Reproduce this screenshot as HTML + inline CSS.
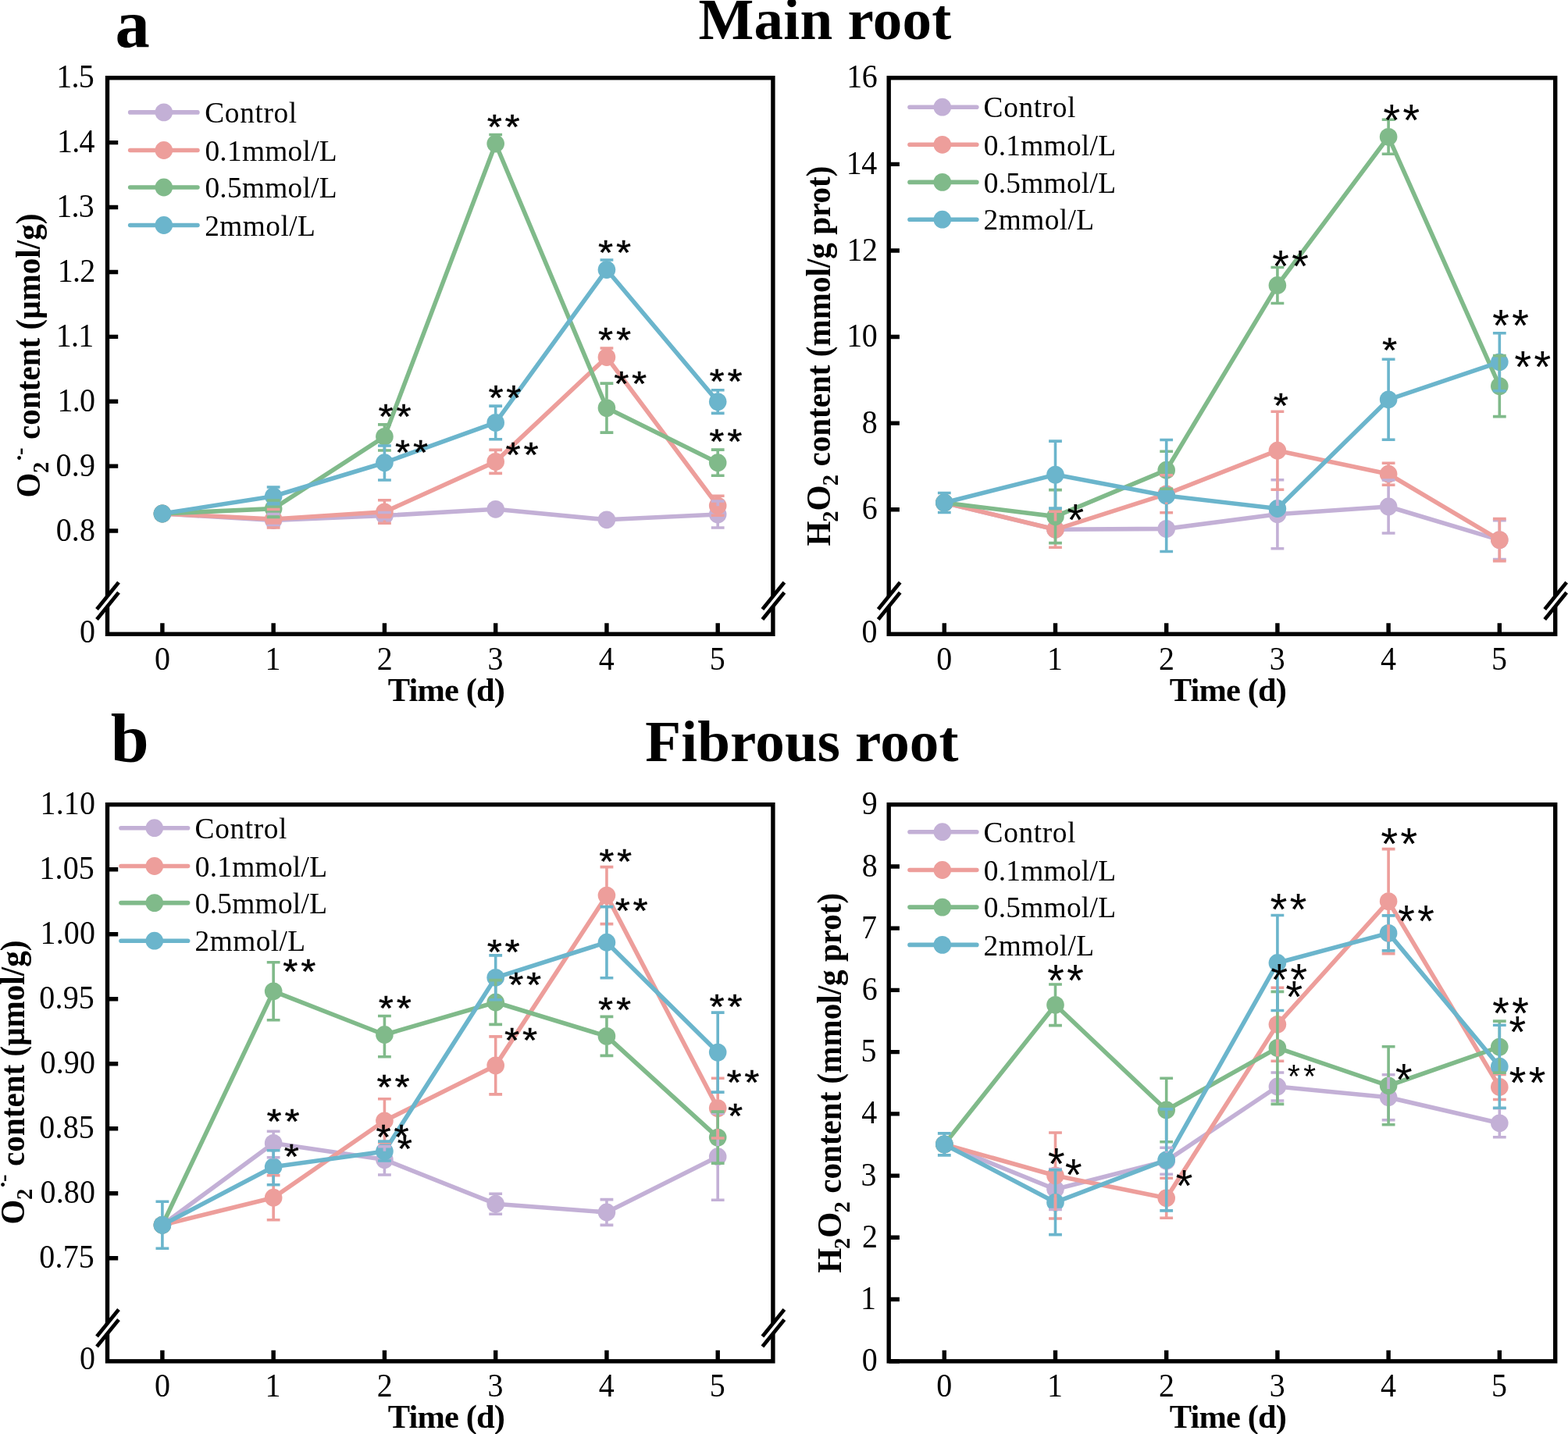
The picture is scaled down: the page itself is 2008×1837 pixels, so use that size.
<!DOCTYPE html>
<html lang="en"><head><meta charset="utf-8"><title>Main root and fibrous root: O2 and H2O2 content</title>
<style>
html,body{margin:0;padding:0;background:#fff}
body{width:2008px;height:1837px;overflow:hidden}
svg{display:block}
text{font-family:"Liberation Serif",serif;fill:#000;white-space:pre}
.b{font-weight:bold}
.m{font-family:"Liberation Mono",monospace}
</style></head><body>
<svg width="2008" height="1837" viewBox="0 0 2008 1837">
<rect width="2008" height="1837" fill="#fff"/>
<text class="b" transform="translate(894.49,50.20)" font-size="75.00" letter-spacing="0.28">Main root</text>
<text class="b" transform="translate(826.19,975.20)" font-size="75.00" letter-spacing="0.18">Fibrous root</text>
<text class="b" transform="translate(147.42,59.62)" font-size="88.50">a</text>
<text class="b" transform="translate(141.70,976.32)" font-size="88.00">b</text>
<polyline points="207.90,658.00 350.16,666.50 492.42,660.50 634.68,652.30 776.94,665.80 919.20,659.00" stroke="#c3b0d6" stroke-width="5.6" fill="none" stroke-linejoin="round"/>
<ellipse cx="207.90" cy="658.00" rx="11.3" ry="11.4" fill="#c3b0d6"/>
<ellipse cx="350.16" cy="666.50" rx="11.3" ry="11.4" fill="#c3b0d6"/>
<ellipse cx="492.42" cy="660.50" rx="11.3" ry="11.4" fill="#c3b0d6"/>
<ellipse cx="634.68" cy="652.30" rx="11.3" ry="11.4" fill="#c3b0d6"/>
<ellipse cx="776.94" cy="665.80" rx="11.3" ry="11.4" fill="#c3b0d6"/>
<ellipse cx="919.20" cy="659.00" rx="11.3" ry="11.4" fill="#c3b0d6"/>
<polyline points="207.90,658.00 350.16,665.00 492.42,655.80 634.68,591.40 776.94,457.50 919.20,647.80" stroke="#ed9e9b" stroke-width="5.6" fill="none" stroke-linejoin="round"/>
<ellipse cx="207.90" cy="658.00" rx="11.3" ry="11.4" fill="#ed9e9b"/>
<ellipse cx="350.16" cy="665.00" rx="11.3" ry="11.4" fill="#ed9e9b"/>
<ellipse cx="492.42" cy="655.80" rx="11.3" ry="11.4" fill="#ed9e9b"/>
<ellipse cx="634.68" cy="591.40" rx="11.3" ry="11.4" fill="#ed9e9b"/>
<ellipse cx="776.94" cy="457.50" rx="11.3" ry="11.4" fill="#ed9e9b"/>
<ellipse cx="919.20" cy="647.80" rx="11.3" ry="11.4" fill="#ed9e9b"/>
<polyline points="207.90,658.00 350.16,651.60 492.42,559.30 634.68,184.00 776.94,522.60 919.20,592.70" stroke="#80ba8a" stroke-width="5.6" fill="none" stroke-linejoin="round"/>
<ellipse cx="207.90" cy="658.00" rx="11.3" ry="11.4" fill="#80ba8a"/>
<ellipse cx="350.16" cy="651.60" rx="11.3" ry="11.4" fill="#80ba8a"/>
<ellipse cx="492.42" cy="559.30" rx="11.3" ry="11.4" fill="#80ba8a"/>
<ellipse cx="634.68" cy="184.00" rx="11.3" ry="11.4" fill="#80ba8a"/>
<ellipse cx="776.94" cy="522.60" rx="11.3" ry="11.4" fill="#80ba8a"/>
<ellipse cx="919.20" cy="592.70" rx="11.3" ry="11.4" fill="#80ba8a"/>
<polyline points="207.90,658.00 350.16,635.70 492.42,592.70 634.68,541.40 776.94,345.50 919.20,514.60" stroke="#6bb5cc" stroke-width="5.6" fill="none" stroke-linejoin="round"/>
<ellipse cx="207.90" cy="658.00" rx="11.3" ry="11.4" fill="#6bb5cc"/>
<ellipse cx="350.16" cy="635.70" rx="11.3" ry="11.4" fill="#6bb5cc"/>
<ellipse cx="492.42" cy="592.70" rx="11.3" ry="11.4" fill="#6bb5cc"/>
<ellipse cx="634.68" cy="541.40" rx="11.3" ry="11.4" fill="#6bb5cc"/>
<ellipse cx="776.94" cy="345.50" rx="11.3" ry="11.4" fill="#6bb5cc"/>
<ellipse cx="919.20" cy="514.60" rx="11.3" ry="11.4" fill="#6bb5cc"/>
<path d="M341.76,658.50h16.8M341.76,673.50h16.8M484.02,656.50h16.8M484.02,666.00h16.8M910.80,642.00h16.8M919.20,642.00V648.20M910.80,676.00h16.8M919.20,669.80V676.00" stroke="#c3b0d6" stroke-width="3.6" fill="none"/>
<path d="M341.76,652.50h16.8M350.16,652.50V654.20M341.76,676.00h16.8M350.16,675.80V676.00M484.02,640.80h16.8M492.42,640.80V645.00M484.02,670.30h16.8M492.42,666.60V670.30M626.28,576.40h16.8M634.68,576.40V580.60M626.28,606.40h16.8M634.68,602.20V606.40M768.54,446.00h16.8M776.94,446.00V446.70M910.80,635.30h16.8M919.20,635.30V637.00M910.80,660.30h16.8M919.20,658.60V660.30" stroke="#ed9e9b" stroke-width="3.6" fill="none"/>
<path d="M341.76,641.00h16.8M341.76,662.40h16.8M484.02,543.90h16.8M492.42,543.90V548.50M484.02,577.00h16.8M492.42,570.10V577.00M626.28,172.50h16.8M634.68,172.50V173.20M768.54,491.10h16.8M776.94,491.10V511.80M768.54,554.10h16.8M776.94,533.40V554.10M910.80,576.10h16.8M919.20,576.10V581.90M910.80,609.30h16.8M919.20,603.50V609.30" stroke="#80ba8a" stroke-width="3.6" fill="none"/>
<path d="M341.76,624.00h16.8M350.16,624.00V624.90M341.76,645.70h16.8M484.02,571.00h16.8M492.42,571.00V581.90M484.02,615.00h16.8M492.42,603.50V615.00M626.28,520.10h16.8M634.68,520.10V530.60M626.28,562.70h16.8M634.68,552.20V562.70M768.54,333.00h16.8M776.94,333.00V334.70M910.80,499.80h16.8M919.20,499.80V503.80M910.80,529.40h16.8M919.20,525.40V529.40" stroke="#6bb5cc" stroke-width="3.6" fill="none"/>
<path d="M207.90,812.30V798.20M350.16,812.30V798.20M492.42,812.30V798.20M634.68,812.30V798.20M776.94,812.30V798.20M919.20,812.30V798.20M137.50,182.65H151.20M137.50,265.55H151.20M137.50,348.45H151.20M137.50,431.35H151.20M137.50,514.25H151.20M137.50,597.15H151.20M137.50,680.05H151.20" stroke="#000" stroke-width="5.4" fill="none"/>
<rect x="137.50" y="99.75" width="852.40" height="712.55" fill="none" stroke="#000" stroke-width="5.4"/>
<path d="M124.00,780.40L152.00,746.00L152.00,759.00L124.00,793.40Z" fill="#fff"/>
<path d="M124.00,780.40L152.00,746.00M124.00,793.40L152.00,759.00" stroke="#000" stroke-width="4.8" fill="none"/>
<path d="M976.40,780.40L1004.40,746.00L1004.40,759.00L976.40,793.40Z" fill="#fff"/>
<path d="M976.40,780.40L1004.40,746.00M976.40,793.40L1004.40,759.00" stroke="#000" stroke-width="4.8" fill="none"/>
<text transform="translate(72.36,112.35) scale(0.9400,1)" font-size="42.50" letter-spacing="-0.80">1.5</text>
<text transform="translate(72.97,195.25) scale(0.9400,1)" font-size="42.50" letter-spacing="-0.80">1.4</text>
<text transform="translate(72.26,278.15) scale(0.9400,1)" font-size="42.50" letter-spacing="-0.80">1.3</text>
<text transform="translate(73.76,361.05) scale(0.9400,1)" font-size="42.50" letter-spacing="-0.80">1.2</text>
<text transform="translate(71.76,443.95) scale(0.9400,1)" font-size="42.50" letter-spacing="-0.80">1.1</text>
<text transform="translate(73.56,526.85) scale(0.9400,1)" font-size="42.50" letter-spacing="-0.80">1.0</text>
<text transform="translate(71.58,609.75) scale(0.9400,1)" font-size="42.50" letter-spacing="0.20">0.9</text>
<text transform="translate(71.68,692.65) scale(0.9400,1)" font-size="42.50" letter-spacing="0.20">0.8</text>
<text transform="translate(102.02,822.88) scale(0.9400,1)" font-size="42.50">0</text>
<text transform="translate(197.91,857.70) scale(0.9400,1)" font-size="42.50">0</text>
<text transform="translate(339.62,857.70) scale(0.9400,1)" font-size="42.50">1</text>
<text transform="translate(482.68,857.70) scale(0.9400,1)" font-size="42.50">2</text>
<text transform="translate(624.49,857.70) scale(0.9400,1)" font-size="42.50">3</text>
<text transform="translate(766.85,857.70) scale(0.9400,1)" font-size="42.50">4</text>
<text transform="translate(908.81,857.70) scale(0.9400,1)" font-size="42.50">5</text>
<text class="b" transform="translate(496.76,897.80)" font-size="42.50" letter-spacing="-0.88">Time (d)</text>
<path d="M166.70,143.90H253.00" stroke="#c3b0d6" stroke-width="5.6" stroke-linecap="round"/>
<ellipse cx="209.80" cy="143.90" rx="11.3" ry="11.4" fill="#c3b0d6"/>
<text transform="translate(262.30,157.10)" font-size="37.40" letter-spacing="0.60">Control</text>
<path d="M166.70,192.50H253.00" stroke="#ed9e9b" stroke-width="5.6" stroke-linecap="round"/>
<ellipse cx="209.80" cy="192.50" rx="11.3" ry="11.4" fill="#ed9e9b"/>
<text transform="translate(262.40,205.70)" font-size="37.40" letter-spacing="0.26">0.1mmol/L</text>
<path d="M166.70,240.00H253.00" stroke="#80ba8a" stroke-width="5.6" stroke-linecap="round"/>
<ellipse cx="209.80" cy="240.00" rx="11.3" ry="11.4" fill="#80ba8a"/>
<text transform="translate(262.40,253.20)" font-size="37.40" letter-spacing="0.26">0.5mmol/L</text>
<path d="M166.70,288.50H253.00" stroke="#6bb5cc" stroke-width="5.6" stroke-linecap="round"/>
<ellipse cx="209.80" cy="288.50" rx="11.3" ry="11.4" fill="#6bb5cc"/>
<text transform="translate(262.21,301.70)" font-size="37.40" letter-spacing="0.42">2mmol/L</text>
<g transform="translate(51.20,635.50) rotate(-90)">
<text class="b" transform="translate(-1.94,0.00) scale(0.9300,1)" font-size="44.00">O</text>
<text class="b" transform="translate(29.49,10.40) scale(0.9500,1)" font-size="30.00">2</text>
<text class="b" transform="translate(43.91,-17.26)" font-size="30.00">·</text>
<text class="b" transform="translate(52.60,-16.65) scale(0.9500,1)" font-size="30.00">-</text>
<text class="b" transform="translate(72.56,0.00) scale(0.9350,1)" font-size="44.00">content (μmol/g)</text>
</g>
<text class="m" transform="translate(618.71,178.94) scale(1.1134,1)" font-size="43.71" letter-spacing="-5.67" stroke="#000" stroke-width="0.5">**</text>
<text class="m" transform="translate(761.01,339.84) scale(1.1134,1)" font-size="43.71" letter-spacing="-5.67" stroke="#000" stroke-width="0.5">**</text>
<text class="m" transform="translate(761.01,451.84) scale(1.1134,1)" font-size="43.71" letter-spacing="-5.67" stroke="#000" stroke-width="0.5">**</text>
<text class="m" transform="translate(781.21,508.24) scale(1.1134,1)" font-size="43.71" letter-spacing="-5.67" stroke="#000" stroke-width="0.5">**</text>
<text class="m" transform="translate(903.61,504.74) scale(1.1134,1)" font-size="43.71" letter-spacing="-5.67" stroke="#000" stroke-width="0.5">**</text>
<text class="m" transform="translate(903.31,581.74) scale(1.1134,1)" font-size="43.71" letter-spacing="-5.67" stroke="#000" stroke-width="0.5">**</text>
<text class="m" transform="translate(620.41,526.04) scale(1.1134,1)" font-size="43.71" letter-spacing="-5.67" stroke="#000" stroke-width="0.5">**</text>
<text class="m" transform="translate(642.51,598.64) scale(1.1134,1)" font-size="43.71" letter-spacing="-5.67" stroke="#000" stroke-width="0.5">**</text>
<text class="m" transform="translate(479.51,550.14) scale(1.1134,1)" font-size="43.71" letter-spacing="-5.67" stroke="#000" stroke-width="0.5">**</text>
<text class="m" transform="translate(501.01,595.54) scale(1.1134,1)" font-size="43.71" letter-spacing="-5.67" stroke="#000" stroke-width="0.5">**</text>
<polyline points="1209.30,644.00 1351.50,678.30 1493.70,677.40 1635.90,658.80 1778.10,649.00 1920.30,691.60" stroke="#c3b0d6" stroke-width="5.6" fill="none" stroke-linejoin="round"/>
<ellipse cx="1209.30" cy="644.00" rx="11.3" ry="11.4" fill="#c3b0d6"/>
<ellipse cx="1351.50" cy="678.30" rx="11.3" ry="11.4" fill="#c3b0d6"/>
<ellipse cx="1493.70" cy="677.40" rx="11.3" ry="11.4" fill="#c3b0d6"/>
<ellipse cx="1635.90" cy="658.80" rx="11.3" ry="11.4" fill="#c3b0d6"/>
<ellipse cx="1778.10" cy="649.00" rx="11.3" ry="11.4" fill="#c3b0d6"/>
<ellipse cx="1920.30" cy="691.60" rx="11.3" ry="11.4" fill="#c3b0d6"/>
<polyline points="1209.30,644.00 1351.50,678.30 1493.70,632.80 1635.90,577.20 1778.10,607.20 1920.30,691.60" stroke="#ed9e9b" stroke-width="5.6" fill="none" stroke-linejoin="round"/>
<ellipse cx="1209.30" cy="644.00" rx="11.3" ry="11.4" fill="#ed9e9b"/>
<ellipse cx="1351.50" cy="678.30" rx="11.3" ry="11.4" fill="#ed9e9b"/>
<ellipse cx="1493.70" cy="632.80" rx="11.3" ry="11.4" fill="#ed9e9b"/>
<ellipse cx="1635.90" cy="577.20" rx="11.3" ry="11.4" fill="#ed9e9b"/>
<ellipse cx="1778.10" cy="607.20" rx="11.3" ry="11.4" fill="#ed9e9b"/>
<ellipse cx="1920.30" cy="691.60" rx="11.3" ry="11.4" fill="#ed9e9b"/>
<polyline points="1209.30,644.00 1351.50,661.60 1493.70,602.20 1635.90,365.50 1778.10,175.30 1920.30,494.60" stroke="#80ba8a" stroke-width="5.6" fill="none" stroke-linejoin="round"/>
<ellipse cx="1209.30" cy="644.00" rx="11.3" ry="11.4" fill="#80ba8a"/>
<ellipse cx="1351.50" cy="661.60" rx="11.3" ry="11.4" fill="#80ba8a"/>
<ellipse cx="1493.70" cy="602.20" rx="11.3" ry="11.4" fill="#80ba8a"/>
<ellipse cx="1635.90" cy="365.50" rx="11.3" ry="11.4" fill="#80ba8a"/>
<ellipse cx="1778.10" cy="175.30" rx="11.3" ry="11.4" fill="#80ba8a"/>
<ellipse cx="1920.30" cy="494.60" rx="11.3" ry="11.4" fill="#80ba8a"/>
<polyline points="1209.30,644.00 1351.50,608.10 1493.70,635.00 1635.90,651.50 1778.10,511.80 1920.30,463.80" stroke="#6bb5cc" stroke-width="5.6" fill="none" stroke-linejoin="round"/>
<ellipse cx="1209.30" cy="644.00" rx="11.3" ry="11.4" fill="#6bb5cc"/>
<ellipse cx="1351.50" cy="608.10" rx="11.3" ry="11.4" fill="#6bb5cc"/>
<ellipse cx="1493.70" cy="635.00" rx="11.3" ry="11.4" fill="#6bb5cc"/>
<ellipse cx="1635.90" cy="651.50" rx="11.3" ry="11.4" fill="#6bb5cc"/>
<ellipse cx="1778.10" cy="511.80" rx="11.3" ry="11.4" fill="#6bb5cc"/>
<ellipse cx="1920.30" cy="463.80" rx="11.3" ry="11.4" fill="#6bb5cc"/>
<path d="M1627.50,614.80h16.8M1635.90,614.80V648.00M1627.50,702.80h16.8M1635.90,669.60V702.80M1769.70,615.00h16.8M1778.10,615.00V638.20M1769.70,683.00h16.8M1778.10,659.80V683.00M1911.90,666.60h16.8M1920.30,666.60V680.80M1911.90,716.60h16.8M1920.30,702.40V716.60" stroke="#c3b0d6" stroke-width="3.6" fill="none"/>
<path d="M1343.10,655.30h16.8M1351.50,655.30V667.50M1343.10,701.30h16.8M1351.50,689.10V701.30M1485.30,608.80h16.8M1493.70,608.80V622.00M1485.30,656.80h16.8M1493.70,643.60V656.80M1627.50,527.20h16.8M1635.90,527.20V566.40M1627.50,627.20h16.8M1635.90,588.00V627.20M1769.70,593.20h16.8M1778.10,593.20V596.40M1769.70,621.20h16.8M1778.10,618.00V621.20M1911.90,664.60h16.8M1920.30,664.60V680.80M1911.90,718.60h16.8M1920.30,702.40V718.60" stroke="#ed9e9b" stroke-width="3.6" fill="none"/>
<path d="M1343.10,627.60h16.8M1351.50,627.60V650.80M1343.10,695.60h16.8M1351.50,672.40V695.60M1485.30,578.20h16.8M1493.70,578.20V591.40M1485.30,626.20h16.8M1493.70,613.00V626.20M1627.50,342.50h16.8M1635.90,342.50V354.70M1627.50,388.50h16.8M1635.90,376.30V388.50M1769.70,153.30h16.8M1778.10,153.30V164.50M1769.70,197.30h16.8M1778.10,186.10V197.30M1911.90,455.60h16.8M1920.30,455.60V483.80M1911.90,533.60h16.8M1920.30,505.40V533.60" stroke="#80ba8a" stroke-width="3.6" fill="none"/>
<path d="M1200.90,631.50h16.8M1209.30,631.50V633.20M1200.90,656.50h16.8M1209.30,654.80V656.50M1343.10,565.10h16.8M1351.50,565.10V597.30M1343.10,651.10h16.8M1351.50,618.90V651.10M1485.30,563.50h16.8M1493.70,563.50V624.20M1485.30,706.50h16.8M1493.70,645.80V706.50M1769.70,460.30h16.8M1778.10,460.30V501.00M1769.70,563.30h16.8M1778.10,522.60V563.30M1911.90,426.80h16.8M1920.30,426.80V453.00M1911.90,500.80h16.8M1920.30,474.60V500.80" stroke="#6bb5cc" stroke-width="3.6" fill="none"/>
<path d="M1209.30,812.30V798.20M1351.50,812.30V798.20M1493.70,812.30V798.20M1635.90,812.30V798.20M1778.10,812.30V798.20M1920.30,812.30V798.20M1138.20,210.35H1151.90M1138.20,320.95H1151.90M1138.20,431.55H1151.90M1138.20,542.15H1151.90M1138.20,652.75H1151.90" stroke="#000" stroke-width="5.4" fill="none"/>
<rect x="1138.20" y="99.75" width="853.50" height="712.55" fill="none" stroke="#000" stroke-width="5.4"/>
<path d="M1124.70,780.40L1152.70,746.00L1152.70,759.00L1124.70,793.40Z" fill="#fff"/>
<path d="M1124.70,780.40L1152.70,746.00M1124.70,793.40L1152.70,759.00" stroke="#000" stroke-width="4.8" fill="none"/>
<path d="M1978.20,780.40L2006.20,746.00L2006.20,759.00L1978.20,793.40Z" fill="#fff"/>
<path d="M1978.20,780.40L2006.20,746.00M1978.20,793.40L2006.20,759.00" stroke="#000" stroke-width="4.8" fill="none"/>
<text transform="translate(1084.22,112.35) scale(0.9400,1)" font-size="42.50" letter-spacing="-0.40">16</text>
<text transform="translate(1083.63,222.95) scale(0.9400,1)" font-size="42.50" letter-spacing="-0.40">14</text>
<text transform="translate(1084.42,333.55) scale(0.9400,1)" font-size="42.50" letter-spacing="-0.40">12</text>
<text transform="translate(1084.22,444.15) scale(0.9400,1)" font-size="42.50" letter-spacing="-0.40">10</text>
<text transform="translate(1103.82,554.75) scale(0.9400,1)" font-size="42.50" letter-spacing="0.20">8</text>
<text transform="translate(1103.82,665.35) scale(0.9400,1)" font-size="42.50" letter-spacing="0.20">6</text>
<text transform="translate(1103.62,822.98) scale(0.9400,1)" font-size="42.50">0</text>
<text transform="translate(1199.31,857.70) scale(0.9400,1)" font-size="42.50">0</text>
<text transform="translate(1340.96,857.70) scale(0.9400,1)" font-size="42.50">1</text>
<text transform="translate(1483.96,857.70) scale(0.9400,1)" font-size="42.50">2</text>
<text transform="translate(1625.71,857.70) scale(0.9400,1)" font-size="42.50">3</text>
<text transform="translate(1768.01,857.70) scale(0.9400,1)" font-size="42.50">4</text>
<text transform="translate(1909.91,857.70) scale(0.9400,1)" font-size="42.50">5</text>
<text class="b" transform="translate(1497.86,897.80)" font-size="42.50" letter-spacing="-0.88">Time (d)</text>
<path d="M1165.00,137.20H1250.80" stroke="#c3b0d6" stroke-width="5.6" stroke-linecap="round"/>
<ellipse cx="1206.80" cy="137.20" rx="11.3" ry="11.4" fill="#c3b0d6"/>
<text transform="translate(1259.60,150.40)" font-size="37.40" letter-spacing="0.60">Control</text>
<path d="M1165.00,185.30H1250.80" stroke="#ed9e9b" stroke-width="5.6" stroke-linecap="round"/>
<ellipse cx="1206.80" cy="185.30" rx="11.3" ry="11.4" fill="#ed9e9b"/>
<text transform="translate(1259.70,198.50)" font-size="37.40" letter-spacing="0.26">0.1mmol/L</text>
<path d="M1165.00,233.40H1250.80" stroke="#80ba8a" stroke-width="5.6" stroke-linecap="round"/>
<ellipse cx="1206.80" cy="233.40" rx="11.3" ry="11.4" fill="#80ba8a"/>
<text transform="translate(1259.70,246.60)" font-size="37.40" letter-spacing="0.26">0.5mmol/L</text>
<path d="M1165.00,281.20H1250.80" stroke="#6bb5cc" stroke-width="5.6" stroke-linecap="round"/>
<ellipse cx="1206.80" cy="281.20" rx="11.3" ry="11.4" fill="#6bb5cc"/>
<text transform="translate(1259.51,294.40)" font-size="37.40" letter-spacing="0.42">2mmol/L</text>
<g transform="translate(1062.50,698.80) rotate(-90)">
<text class="b" transform="translate(-0.72,0.00) scale(0.9300,1)" font-size="44.00">H</text>
<text class="b" transform="translate(30.09,10.40) scale(0.9500,1)" font-size="30.00">2</text>
<text class="b" transform="translate(44.27,0.00) scale(0.9700,1)" font-size="44.00">O</text>
<text class="b" transform="translate(76.59,10.40) scale(0.9500,1)" font-size="30.00">2</text>
<text class="b" transform="translate(101.26,0.00) scale(0.9340,1)" font-size="44.00">content (mmol/g prot)</text>
</g>
<text class="m" transform="translate(1765.54,175.67) scale(0.9839,1)" font-size="56.86" letter-spacing="-8.81">**</text>
<text class="m" transform="translate(1623.24,363.27) scale(0.9839,1)" font-size="56.86" letter-spacing="-8.81">**</text>
<text class="m" transform="translate(1905.34,438.57) scale(0.9839,1)" font-size="56.86" letter-spacing="-8.81">**</text>
<text class="m" transform="translate(1765.11,465.34) scale(1.1134,1)" font-size="43.71" stroke="#000" stroke-width="0.5">*</text>
<text class="m" transform="translate(1933.54,492.47) scale(0.9839,1)" font-size="56.86" letter-spacing="-8.81">**</text>
<text class="m" transform="translate(1625.76,535.74) scale(1.1134,1)" font-size="43.71" stroke="#000" stroke-width="0.5">*</text>
<text class="m" transform="translate(1360.59,687.97) scale(0.9839,1)" font-size="56.86">*</text>
<polyline points="207.90,1569.30 350.16,1464.40 492.42,1485.60 634.68,1542.20 776.94,1553.00 919.20,1481.70" stroke="#c3b0d6" stroke-width="5.6" fill="none" stroke-linejoin="round"/>
<ellipse cx="207.90" cy="1569.30" rx="11.3" ry="11.4" fill="#c3b0d6"/>
<ellipse cx="350.16" cy="1464.40" rx="11.3" ry="11.4" fill="#c3b0d6"/>
<ellipse cx="492.42" cy="1485.60" rx="11.3" ry="11.4" fill="#c3b0d6"/>
<ellipse cx="634.68" cy="1542.20" rx="11.3" ry="11.4" fill="#c3b0d6"/>
<ellipse cx="776.94" cy="1553.00" rx="11.3" ry="11.4" fill="#c3b0d6"/>
<ellipse cx="919.20" cy="1481.70" rx="11.3" ry="11.4" fill="#c3b0d6"/>
<polyline points="207.90,1569.30 350.16,1534.20 492.42,1435.80 634.68,1364.90 776.94,1147.10 919.20,1419.60" stroke="#ed9e9b" stroke-width="5.6" fill="none" stroke-linejoin="round"/>
<ellipse cx="207.90" cy="1569.30" rx="11.3" ry="11.4" fill="#ed9e9b"/>
<ellipse cx="350.16" cy="1534.20" rx="11.3" ry="11.4" fill="#ed9e9b"/>
<ellipse cx="492.42" cy="1435.80" rx="11.3" ry="11.4" fill="#ed9e9b"/>
<ellipse cx="634.68" cy="1364.90" rx="11.3" ry="11.4" fill="#ed9e9b"/>
<ellipse cx="776.94" cy="1147.10" rx="11.3" ry="11.4" fill="#ed9e9b"/>
<ellipse cx="919.20" cy="1419.60" rx="11.3" ry="11.4" fill="#ed9e9b"/>
<polyline points="207.90,1569.30 350.16,1269.80 492.42,1325.50 634.68,1284.00 776.94,1327.40 919.20,1457.10" stroke="#80ba8a" stroke-width="5.6" fill="none" stroke-linejoin="round"/>
<ellipse cx="207.90" cy="1569.30" rx="11.3" ry="11.4" fill="#80ba8a"/>
<ellipse cx="350.16" cy="1269.80" rx="11.3" ry="11.4" fill="#80ba8a"/>
<ellipse cx="492.42" cy="1325.50" rx="11.3" ry="11.4" fill="#80ba8a"/>
<ellipse cx="634.68" cy="1284.00" rx="11.3" ry="11.4" fill="#80ba8a"/>
<ellipse cx="776.94" cy="1327.40" rx="11.3" ry="11.4" fill="#80ba8a"/>
<ellipse cx="919.20" cy="1457.10" rx="11.3" ry="11.4" fill="#80ba8a"/>
<polyline points="207.90,1569.30 350.16,1494.70 492.42,1474.90 634.68,1252.30 776.94,1207.20 919.20,1348.10" stroke="#6bb5cc" stroke-width="5.6" fill="none" stroke-linejoin="round"/>
<ellipse cx="207.90" cy="1569.30" rx="11.3" ry="11.4" fill="#6bb5cc"/>
<ellipse cx="350.16" cy="1494.70" rx="11.3" ry="11.4" fill="#6bb5cc"/>
<ellipse cx="492.42" cy="1474.90" rx="11.3" ry="11.4" fill="#6bb5cc"/>
<ellipse cx="634.68" cy="1252.30" rx="11.3" ry="11.4" fill="#6bb5cc"/>
<ellipse cx="776.94" cy="1207.20" rx="11.3" ry="11.4" fill="#6bb5cc"/>
<ellipse cx="919.20" cy="1348.10" rx="11.3" ry="11.4" fill="#6bb5cc"/>
<path d="M341.76,1449.20h16.8M350.16,1449.20V1453.60M341.76,1482.70h16.8M350.16,1475.20V1482.70M484.02,1468.60h16.8M492.42,1468.60V1474.80M484.02,1505.00h16.8M492.42,1496.40V1505.00M626.28,1529.20h16.8M634.68,1529.20V1531.40M626.28,1555.20h16.8M634.68,1553.00V1555.20M768.54,1536.60h16.8M776.94,1536.60V1542.20M768.54,1569.40h16.8M776.94,1563.80V1569.40M910.80,1426.20h16.8M919.20,1426.20V1470.90M910.80,1537.20h16.8M919.20,1492.50V1537.20" stroke="#c3b0d6" stroke-width="3.6" fill="none"/>
<path d="M341.76,1505.70h16.8M350.16,1505.70V1523.40M341.76,1562.70h16.8M350.16,1545.00V1562.70M484.02,1407.80h16.8M492.42,1407.80V1425.00M484.02,1463.80h16.8M492.42,1446.60V1463.80M626.28,1327.90h16.8M634.68,1327.90V1354.10M626.28,1401.90h16.8M634.68,1375.70V1401.90M768.54,1110.60h16.8M776.94,1110.60V1136.30M768.54,1183.60h16.8M776.94,1157.90V1183.60M910.80,1381.20h16.8M919.20,1381.20V1408.80M910.80,1458.00h16.8M919.20,1430.40V1458.00" stroke="#ed9e9b" stroke-width="3.6" fill="none"/>
<path d="M341.76,1232.80h16.8M350.16,1232.80V1259.00M341.76,1306.80h16.8M350.16,1280.60V1306.80M484.02,1301.50h16.8M492.42,1301.50V1314.70M484.02,1353.80h16.8M492.42,1336.30V1353.80M626.28,1255.60h16.8M634.68,1255.60V1273.20M626.28,1312.40h16.8M634.68,1294.80V1312.40M768.54,1302.40h16.8M776.94,1302.40V1316.60M768.54,1352.40h16.8M776.94,1338.20V1352.40M910.80,1424.10h16.8M919.20,1424.10V1446.30M910.80,1490.10h16.8M919.20,1467.90V1490.10" stroke="#80ba8a" stroke-width="3.6" fill="none"/>
<path d="M199.50,1539.30h16.8M207.90,1539.30V1558.50M199.50,1599.30h16.8M207.90,1580.10V1599.30M341.76,1473.70h16.8M350.16,1473.70V1483.90M341.76,1517.70h16.8M350.16,1505.50V1517.70M484.02,1462.10h16.8M492.42,1462.10V1464.10M484.02,1487.00h16.8M492.42,1485.70V1487.00M626.28,1223.90h16.8M634.68,1223.90V1241.50M626.28,1280.70h16.8M634.68,1263.10V1280.70M768.54,1161.60h16.8M776.94,1161.60V1196.40M768.54,1252.80h16.8M776.94,1218.00V1252.80M910.80,1297.10h16.8M919.20,1297.10V1337.30M910.80,1399.10h16.8M919.20,1358.90V1399.10" stroke="#6bb5cc" stroke-width="3.6" fill="none"/>
<path d="M207.90,1743.80V1729.70M350.16,1743.80V1729.70M492.42,1743.80V1729.70M634.68,1743.80V1729.70M776.94,1743.80V1729.70M919.20,1743.80V1729.70M137.50,1113.70H151.20M137.50,1196.70H151.20M137.50,1279.70H151.20M137.50,1362.70H151.20M137.50,1445.70H151.20M137.50,1528.70H151.20M137.50,1611.70H151.20" stroke="#000" stroke-width="5.4" fill="none"/>
<rect x="137.50" y="1030.70" width="852.40" height="713.10" fill="none" stroke="#000" stroke-width="5.4"/>
<path d="M124.00,1711.90L152.00,1677.50L152.00,1690.50L124.00,1724.90Z" fill="#fff"/>
<path d="M124.00,1711.90L152.00,1677.50M124.00,1724.90L152.00,1690.50" stroke="#000" stroke-width="4.8" fill="none"/>
<path d="M976.40,1711.90L1004.40,1677.50L1004.40,1690.50L976.40,1724.90Z" fill="#fff"/>
<path d="M976.40,1711.90L1004.40,1677.50M976.40,1724.90L1004.40,1690.50" stroke="#000" stroke-width="4.8" fill="none"/>
<text transform="translate(51.52,1043.30) scale(0.9400,1)" font-size="42.50" letter-spacing="0.20">1.10</text>
<text transform="translate(50.32,1126.30) scale(0.9400,1)" font-size="42.50" letter-spacing="0.20">1.05</text>
<text transform="translate(51.52,1209.30) scale(0.9400,1)" font-size="42.50" letter-spacing="0.20">1.00</text>
<text transform="translate(50.32,1292.30) scale(0.9400,1)" font-size="42.50" letter-spacing="0.20">0.95</text>
<text transform="translate(51.52,1375.30) scale(0.9400,1)" font-size="42.50" letter-spacing="0.20">0.90</text>
<text transform="translate(50.32,1458.30) scale(0.9400,1)" font-size="42.50" letter-spacing="0.20">0.85</text>
<text transform="translate(51.52,1541.30) scale(0.9400,1)" font-size="42.50" letter-spacing="0.20">0.80</text>
<text transform="translate(50.32,1624.30) scale(0.9400,1)" font-size="42.50" letter-spacing="0.20">0.75</text>
<text transform="translate(102.02,1754.38) scale(0.9400,1)" font-size="42.50">0</text>
<text transform="translate(197.91,1789.20) scale(0.9400,1)" font-size="42.50">0</text>
<text transform="translate(339.62,1789.20) scale(0.9400,1)" font-size="42.50">1</text>
<text transform="translate(482.68,1789.20) scale(0.9400,1)" font-size="42.50">2</text>
<text transform="translate(624.49,1789.20) scale(0.9400,1)" font-size="42.50">3</text>
<text transform="translate(766.85,1789.20) scale(0.9400,1)" font-size="42.50">4</text>
<text transform="translate(908.81,1789.20) scale(0.9400,1)" font-size="42.50">5</text>
<text class="b" transform="translate(496.76,1829.30)" font-size="42.50" letter-spacing="-0.88">Time (d)</text>
<path d="M155.00,1060.70H240.60" stroke="#c3b0d6" stroke-width="5.6" stroke-linecap="round"/>
<ellipse cx="197.80" cy="1060.70" rx="11.3" ry="11.4" fill="#c3b0d6"/>
<text transform="translate(249.60,1073.90)" font-size="37.40" letter-spacing="0.60">Control</text>
<path d="M155.00,1109.50H240.60" stroke="#ed9e9b" stroke-width="5.6" stroke-linecap="round"/>
<ellipse cx="197.80" cy="1109.50" rx="11.3" ry="11.4" fill="#ed9e9b"/>
<text transform="translate(249.70,1122.70)" font-size="37.40" letter-spacing="0.26">0.1mmol/L</text>
<path d="M155.00,1156.60H240.60" stroke="#80ba8a" stroke-width="5.6" stroke-linecap="round"/>
<ellipse cx="197.80" cy="1156.60" rx="11.3" ry="11.4" fill="#80ba8a"/>
<text transform="translate(249.70,1169.80)" font-size="37.40" letter-spacing="0.26">0.5mmol/L</text>
<path d="M155.00,1205.20H240.60" stroke="#6bb5cc" stroke-width="5.6" stroke-linecap="round"/>
<ellipse cx="197.80" cy="1205.20" rx="11.3" ry="11.4" fill="#6bb5cc"/>
<text transform="translate(249.51,1218.40)" font-size="37.40" letter-spacing="0.42">2mmol/L</text>
<g transform="translate(30.50,1566.50) rotate(-90)">
<text class="b" transform="translate(-1.94,0.00) scale(0.9300,1)" font-size="44.00">O</text>
<text class="b" transform="translate(29.49,10.40) scale(0.9500,1)" font-size="30.00">2</text>
<text class="b" transform="translate(43.91,-17.26)" font-size="30.00">·</text>
<text class="b" transform="translate(52.60,-16.65) scale(0.9500,1)" font-size="30.00">-</text>
<text class="b" transform="translate(72.56,0.00) scale(0.9350,1)" font-size="44.00">content (μmol/g)</text>
</g>
<text class="m" transform="translate(357.31,1260.94) scale(1.1134,1)" font-size="43.71" letter-spacing="-5.67" stroke="#000" stroke-width="0.5">**</text>
<text class="m" transform="translate(479.81,1307.54) scale(1.1134,1)" font-size="43.71" letter-spacing="-5.67" stroke="#000" stroke-width="0.5">**</text>
<text class="m" transform="translate(618.71,1235.94) scale(1.1134,1)" font-size="43.71" letter-spacing="-5.67" stroke="#000" stroke-width="0.5">**</text>
<text class="m" transform="translate(646.21,1278.44) scale(1.1134,1)" font-size="43.71" letter-spacing="-5.67" stroke="#000" stroke-width="0.5">**</text>
<text class="m" transform="translate(641.01,1348.64) scale(1.1134,1)" font-size="43.71" letter-spacing="-5.67" stroke="#000" stroke-width="0.5">**</text>
<text class="m" transform="translate(762.21,1119.84) scale(1.1134,1)" font-size="43.71" letter-spacing="-5.67" stroke="#000" stroke-width="0.5">**</text>
<text class="m" transform="translate(782.71,1183.14) scale(1.1134,1)" font-size="43.71" letter-spacing="-5.67" stroke="#000" stroke-width="0.5">**</text>
<text class="m" transform="translate(761.01,1309.54) scale(1.1134,1)" font-size="43.71" letter-spacing="-5.67" stroke="#000" stroke-width="0.5">**</text>
<text class="m" transform="translate(903.61,1306.44) scale(1.1134,1)" font-size="43.71" letter-spacing="-5.67" stroke="#000" stroke-width="0.5">**</text>
<text class="m" transform="translate(925.41,1403.14) scale(1.1134,1)" font-size="43.71" letter-spacing="-5.67" stroke="#000" stroke-width="0.5">**</text>
<text class="m" transform="translate(927.06,1446.44) scale(1.1134,1)" font-size="43.71" stroke="#000" stroke-width="0.5">*</text>
<text class="m" transform="translate(336.51,1453.04) scale(1.1134,1)" font-size="43.71" letter-spacing="-5.67" stroke="#000" stroke-width="0.5">**</text>
<text class="m" transform="translate(358.66,1498.44) scale(1.1134,1)" font-size="43.71" stroke="#000" stroke-width="0.5">*</text>
<text class="m" transform="translate(477.51,1409.14) scale(1.1134,1)" font-size="43.71" letter-spacing="-5.67" stroke="#000" stroke-width="0.5">**</text>
<text class="m" transform="translate(476.61,1472.64) scale(1.1134,1)" font-size="43.71" letter-spacing="-5.67" stroke="#000" stroke-width="0.5">**</text>
<text class="m" transform="translate(503.66,1488.34) scale(1.1134,1)" font-size="43.71" stroke="#000" stroke-width="0.5">*</text>
<polyline points="1209.30,1465.90 1351.50,1523.50 1493.70,1487.20 1635.90,1392.00 1778.10,1405.80 1920.30,1438.80" stroke="#c3b0d6" stroke-width="5.6" fill="none" stroke-linejoin="round"/>
<ellipse cx="1209.30" cy="1465.90" rx="11.3" ry="11.4" fill="#c3b0d6"/>
<ellipse cx="1351.50" cy="1523.50" rx="11.3" ry="11.4" fill="#c3b0d6"/>
<ellipse cx="1493.70" cy="1487.20" rx="11.3" ry="11.4" fill="#c3b0d6"/>
<ellipse cx="1635.90" cy="1392.00" rx="11.3" ry="11.4" fill="#c3b0d6"/>
<ellipse cx="1778.10" cy="1405.80" rx="11.3" ry="11.4" fill="#c3b0d6"/>
<ellipse cx="1920.30" cy="1438.80" rx="11.3" ry="11.4" fill="#c3b0d6"/>
<polyline points="1209.30,1465.90 1351.50,1506.00 1493.70,1534.70 1635.90,1312.30 1778.10,1154.60 1920.30,1392.50" stroke="#ed9e9b" stroke-width="5.6" fill="none" stroke-linejoin="round"/>
<ellipse cx="1209.30" cy="1465.90" rx="11.3" ry="11.4" fill="#ed9e9b"/>
<ellipse cx="1351.50" cy="1506.00" rx="11.3" ry="11.4" fill="#ed9e9b"/>
<ellipse cx="1493.70" cy="1534.70" rx="11.3" ry="11.4" fill="#ed9e9b"/>
<ellipse cx="1635.90" cy="1312.30" rx="11.3" ry="11.4" fill="#ed9e9b"/>
<ellipse cx="1778.10" cy="1154.60" rx="11.3" ry="11.4" fill="#ed9e9b"/>
<ellipse cx="1920.30" cy="1392.50" rx="11.3" ry="11.4" fill="#ed9e9b"/>
<polyline points="1209.30,1465.90 1351.50,1287.30 1493.70,1422.00 1635.90,1342.40 1778.10,1390.80 1920.30,1341.10" stroke="#80ba8a" stroke-width="5.6" fill="none" stroke-linejoin="round"/>
<ellipse cx="1209.30" cy="1465.90" rx="11.3" ry="11.4" fill="#80ba8a"/>
<ellipse cx="1351.50" cy="1287.30" rx="11.3" ry="11.4" fill="#80ba8a"/>
<ellipse cx="1493.70" cy="1422.00" rx="11.3" ry="11.4" fill="#80ba8a"/>
<ellipse cx="1635.90" cy="1342.40" rx="11.3" ry="11.4" fill="#80ba8a"/>
<ellipse cx="1778.10" cy="1390.80" rx="11.3" ry="11.4" fill="#80ba8a"/>
<ellipse cx="1920.30" cy="1341.10" rx="11.3" ry="11.4" fill="#80ba8a"/>
<polyline points="1209.30,1465.90 1351.50,1540.20 1493.70,1485.90 1635.90,1233.50 1778.10,1195.40 1920.30,1366.20" stroke="#6bb5cc" stroke-width="5.6" fill="none" stroke-linejoin="round"/>
<ellipse cx="1209.30" cy="1465.90" rx="11.3" ry="11.4" fill="#6bb5cc"/>
<ellipse cx="1351.50" cy="1540.20" rx="11.3" ry="11.4" fill="#6bb5cc"/>
<ellipse cx="1493.70" cy="1485.90" rx="11.3" ry="11.4" fill="#6bb5cc"/>
<ellipse cx="1635.90" cy="1233.50" rx="11.3" ry="11.4" fill="#6bb5cc"/>
<ellipse cx="1778.10" cy="1195.40" rx="11.3" ry="11.4" fill="#6bb5cc"/>
<ellipse cx="1920.30" cy="1366.20" rx="11.3" ry="11.4" fill="#6bb5cc"/>
<path d="M1343.10,1497.50h16.8M1351.50,1497.50V1512.70M1343.10,1549.50h16.8M1351.50,1534.30V1549.50M1485.30,1470.20h16.8M1493.70,1470.20V1476.40M1485.30,1504.20h16.8M1493.70,1498.00V1504.20M1627.50,1374.00h16.8M1635.90,1374.00V1381.20M1627.50,1410.00h16.8M1635.90,1402.80V1410.00M1769.70,1376.80h16.8M1778.10,1376.80V1395.00M1769.70,1434.80h16.8M1778.10,1416.60V1434.80M1911.90,1419.80h16.8M1920.30,1419.80V1428.00M1911.90,1456.80h16.8M1920.30,1449.60V1456.80" stroke="#c3b0d6" stroke-width="3.6" fill="none"/>
<path d="M1343.10,1451.00h16.8M1351.50,1451.00V1495.20M1343.10,1561.00h16.8M1351.50,1516.80V1561.00M1485.30,1509.20h16.8M1493.70,1509.20V1523.90M1485.30,1560.20h16.8M1493.70,1545.50V1560.20M1627.50,1265.30h16.8M1635.90,1265.30V1301.50M1627.50,1359.30h16.8M1635.90,1323.10V1359.30M1769.70,1087.60h16.8M1778.10,1087.60V1143.80M1769.70,1221.60h16.8M1778.10,1165.40V1221.60M1911.90,1376.50h16.8M1920.30,1376.50V1381.70M1911.90,1408.50h16.8M1920.30,1403.30V1408.50" stroke="#ed9e9b" stroke-width="3.6" fill="none"/>
<path d="M1343.10,1261.00h16.8M1351.50,1261.00V1276.50M1343.10,1313.60h16.8M1351.50,1298.10V1313.60M1485.30,1381.30h16.8M1493.70,1381.30V1411.20M1485.30,1462.70h16.8M1493.70,1432.80V1462.70M1627.50,1270.40h16.8M1635.90,1270.40V1331.60M1627.50,1414.40h16.8M1635.90,1353.20V1414.40M1769.70,1340.80h16.8M1778.10,1340.80V1380.00M1769.70,1440.80h16.8M1778.10,1401.60V1440.80M1911.90,1308.10h16.8M1920.30,1308.10V1330.30M1911.90,1374.10h16.8M1920.30,1351.90V1374.10" stroke="#80ba8a" stroke-width="3.6" fill="none"/>
<path d="M1200.90,1451.90h16.8M1209.30,1451.90V1455.10M1200.90,1479.90h16.8M1209.30,1476.70V1479.90M1343.10,1498.80h16.8M1351.50,1498.80V1529.40M1343.10,1581.60h16.8M1351.50,1551.00V1581.60M1485.30,1420.90h16.8M1493.70,1420.90V1475.10M1485.30,1550.90h16.8M1493.70,1496.70V1550.90M1627.50,1172.50h16.8M1635.90,1172.50V1222.70M1627.50,1294.50h16.8M1635.90,1244.30V1294.50M1769.70,1172.90h16.8M1778.10,1172.90V1184.60M1769.70,1217.90h16.8M1778.10,1206.20V1217.90M1911.90,1313.20h16.8M1920.30,1313.20V1355.40M1911.90,1419.20h16.8M1920.30,1377.00V1419.20" stroke="#6bb5cc" stroke-width="3.6" fill="none"/>
<path d="M1209.30,1743.80V1729.70M1351.50,1743.80V1729.70M1493.70,1743.80V1729.70M1635.90,1743.80V1729.70M1778.10,1743.80V1729.70M1920.30,1743.80V1729.70M1138.20,1109.93H1151.90M1138.20,1189.16H1151.90M1138.20,1268.39H1151.90M1138.20,1347.62H1151.90M1138.20,1426.85H1151.90M1138.20,1506.08H1151.90M1138.20,1585.31H1151.90M1138.20,1664.54H1151.90M1138.20,1743.80H1151.90" stroke="#000" stroke-width="5.4" fill="none"/>
<rect x="1138.20" y="1030.70" width="853.50" height="713.10" fill="none" stroke="#000" stroke-width="5.4"/>
<text transform="translate(1103.72,1043.30) scale(0.9400,1)" font-size="42.50" letter-spacing="0.20">9</text>
<text transform="translate(1103.82,1122.53) scale(0.9400,1)" font-size="42.50" letter-spacing="0.20">8</text>
<text transform="translate(1102.92,1201.76) scale(0.9400,1)" font-size="42.50" letter-spacing="0.20">7</text>
<text transform="translate(1103.82,1280.99) scale(0.9400,1)" font-size="42.50" letter-spacing="0.20">6</text>
<text transform="translate(1102.62,1360.22) scale(0.9400,1)" font-size="42.50" letter-spacing="0.20">5</text>
<text transform="translate(1103.22,1439.45) scale(0.9400,1)" font-size="42.50" letter-spacing="0.20">4</text>
<text transform="translate(1102.52,1518.68) scale(0.9400,1)" font-size="42.50" letter-spacing="0.20">3</text>
<text transform="translate(1104.02,1597.91) scale(0.9400,1)" font-size="42.50" letter-spacing="0.20">2</text>
<text transform="translate(1102.02,1677.14) scale(0.9400,1)" font-size="42.50" letter-spacing="0.20">1</text>
<text transform="translate(1103.82,1756.40) scale(0.9400,1)" font-size="42.50" letter-spacing="0.20">0</text>
<text transform="translate(1199.31,1789.20) scale(0.9400,1)" font-size="42.50">0</text>
<text transform="translate(1340.96,1789.20) scale(0.9400,1)" font-size="42.50">1</text>
<text transform="translate(1483.96,1789.20) scale(0.9400,1)" font-size="42.50">2</text>
<text transform="translate(1625.71,1789.20) scale(0.9400,1)" font-size="42.50">3</text>
<text transform="translate(1768.01,1789.20) scale(0.9400,1)" font-size="42.50">4</text>
<text transform="translate(1909.91,1789.20) scale(0.9400,1)" font-size="42.50">5</text>
<text class="b" transform="translate(1497.86,1829.30)" font-size="42.50" letter-spacing="-0.88">Time (d)</text>
<path d="M1165.00,1065.70H1250.80" stroke="#c3b0d6" stroke-width="5.6" stroke-linecap="round"/>
<ellipse cx="1206.80" cy="1065.70" rx="11.3" ry="11.4" fill="#c3b0d6"/>
<text transform="translate(1259.60,1078.90)" font-size="37.40" letter-spacing="0.60">Control</text>
<path d="M1165.00,1114.50H1250.80" stroke="#ed9e9b" stroke-width="5.6" stroke-linecap="round"/>
<ellipse cx="1206.80" cy="1114.50" rx="11.3" ry="11.4" fill="#ed9e9b"/>
<text transform="translate(1259.70,1127.70)" font-size="37.40" letter-spacing="0.26">0.1mmol/L</text>
<path d="M1165.00,1162.10H1250.80" stroke="#80ba8a" stroke-width="5.6" stroke-linecap="round"/>
<ellipse cx="1206.80" cy="1162.10" rx="11.3" ry="11.4" fill="#80ba8a"/>
<text transform="translate(1259.70,1175.30)" font-size="37.40" letter-spacing="0.26">0.5mmol/L</text>
<path d="M1165.00,1210.40H1250.80" stroke="#6bb5cc" stroke-width="5.6" stroke-linecap="round"/>
<ellipse cx="1206.80" cy="1210.40" rx="11.3" ry="11.4" fill="#6bb5cc"/>
<text transform="translate(1259.51,1223.60)" font-size="37.40" letter-spacing="0.42">2mmol/L</text>
<g transform="translate(1077.30,1630.00) rotate(-90)">
<text class="b" transform="translate(-0.72,0.00) scale(0.9300,1)" font-size="44.00">H</text>
<text class="b" transform="translate(30.09,10.40) scale(0.9500,1)" font-size="30.00">2</text>
<text class="b" transform="translate(44.27,0.00) scale(0.9700,1)" font-size="44.00">O</text>
<text class="b" transform="translate(76.59,10.40) scale(0.9500,1)" font-size="30.00">2</text>
<text class="b" transform="translate(101.26,0.00) scale(0.9340,1)" font-size="44.00">content (mmol/g prot)</text>
</g>
<text class="m" transform="translate(1335.34,1278.47) scale(0.9839,1)" font-size="56.86" letter-spacing="-8.81">**</text>
<text class="m" transform="translate(1620.84,1186.87) scale(0.9839,1)" font-size="56.86" letter-spacing="-8.81">**</text>
<text class="m" transform="translate(1762.54,1103.27) scale(0.9839,1)" font-size="56.86" letter-spacing="-8.81">**</text>
<text class="m" transform="translate(1784.34,1201.57) scale(0.9839,1)" font-size="56.86" letter-spacing="-8.81">**</text>
<text class="m" transform="translate(1621.54,1277.27) scale(0.9839,1)" font-size="56.86" letter-spacing="-8.81">**</text>
<text class="m" transform="translate(1640.49,1298.57) scale(0.9839,1)" font-size="56.86">*</text>
<text class="m" transform="translate(1905.24,1319.67) scale(0.9839,1)" font-size="56.86" letter-spacing="-8.81">**</text>
<text class="m" transform="translate(1926.59,1343.77) scale(0.9839,1)" font-size="56.86">*</text>
<text class="m" transform="translate(1926.84,1409.47) scale(0.9839,1)" font-size="56.86" letter-spacing="-8.81">**</text>
<text class="m" transform="translate(1644.68,1395.26) scale(0.9592,1)" font-size="42.29" letter-spacing="-4.11">**</text>
<text class="m" transform="translate(1781.09,1404.87) scale(0.9839,1)" font-size="56.86">*</text>
<text class="m" transform="translate(1335.89,1513.07) scale(0.9839,1)" font-size="56.86">*</text>
<text class="m" transform="translate(1358.09,1526.57) scale(0.9839,1)" font-size="56.86">*</text>
<text class="m" transform="translate(1499.69,1540.57) scale(0.9839,1)" font-size="56.86">*</text>
</svg>
</body></html>
